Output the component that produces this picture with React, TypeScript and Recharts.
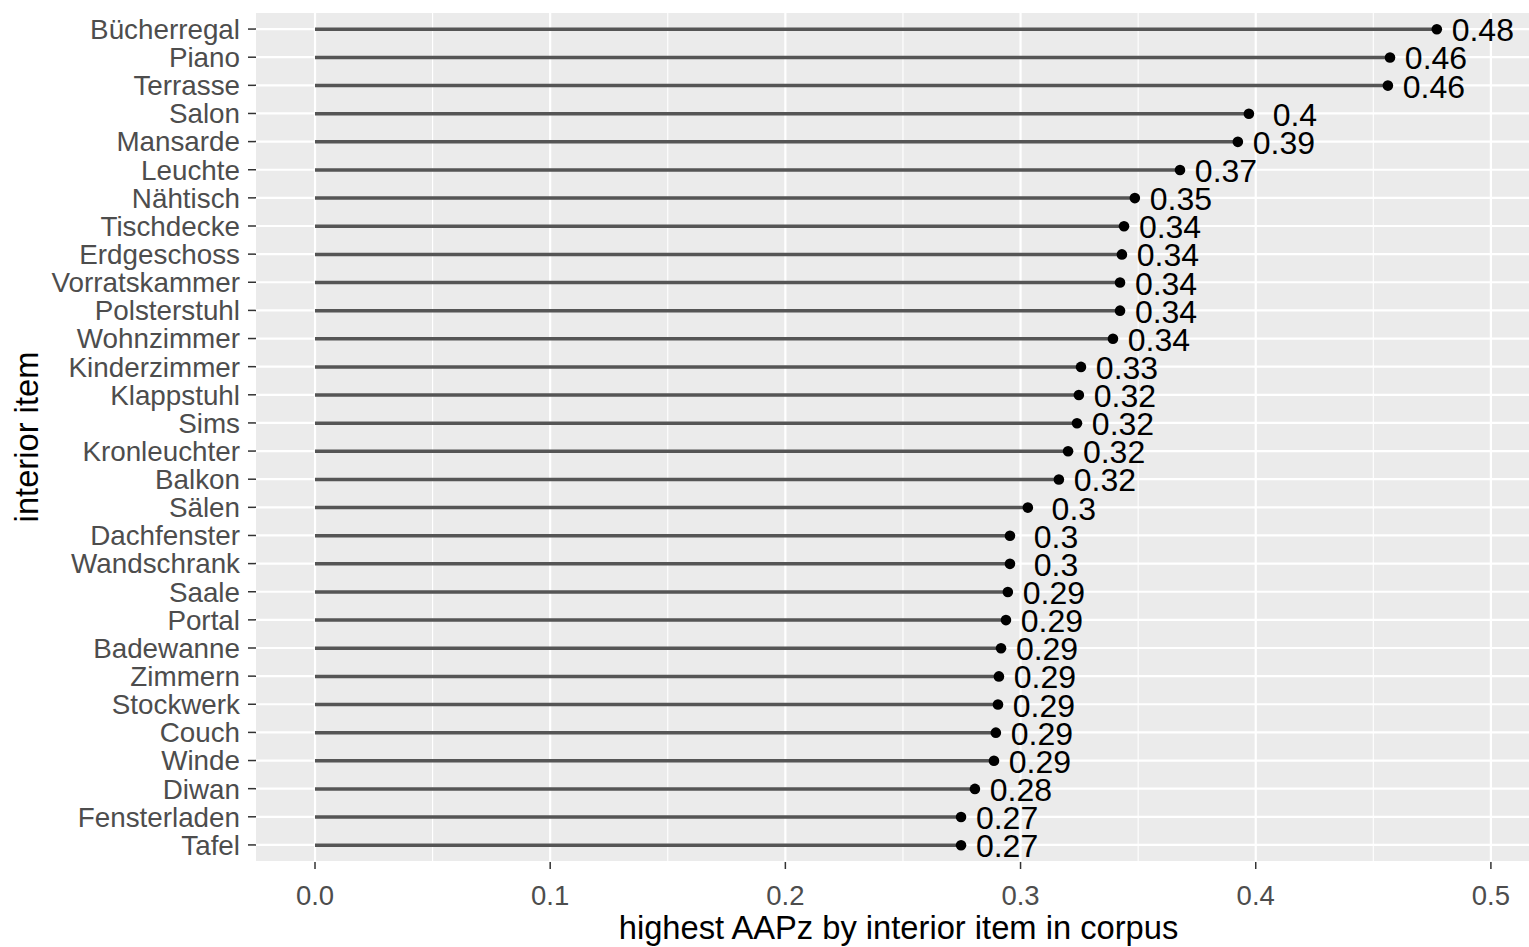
import { BarChart, Bar, XAxis, YAxis, CartesianGrid, Label } from "recharts";

// interior items, top to bottom
const items = [
  "Bücherregal", "Piano", "Terrasse", "Salon", "Mansarde", "Leuchte", "Nähtisch",
  "Tischdecke", "Erdgeschoss", "Vorratskammer", "Polsterstuhl", "Wohnzimmer",
  "Kinderzimmer", "Klappstuhl", "Sims", "Kronleuchter", "Balkon", "Sälen",
  "Dachfenster", "Wandschrank", "Saale", "Portal", "Badewanne", "Zimmern",
  "Stockwerk", "Couch", "Winde", "Diwan", "Fensterladen", "Tafel",
];

// highest AAPz per item
const aapz = [
  0.477, 0.4571, 0.4562, 0.3971, 0.3924, 0.3678, 0.3486,
  0.344, 0.3431, 0.3423, 0.3423, 0.3393,
  0.3257, 0.3248, 0.324, 0.3202, 0.3163, 0.3031,
  0.2955, 0.2955, 0.2946, 0.2938, 0.2917, 0.2908,
  0.2904, 0.2895, 0.2887, 0.2806, 0.2747, 0.2747,
];

const xTicks = [0, 0.1, 0.2, 0.3, 0.4, 0.5];
const xMinor = [0.05, 0.15, 0.25, 0.35, 0.45];

const data = items.map((item, i) => ({ item, value: aapz[i] }));

const FONT = "'Liberation Sans', Arial, sans-serif";

const fmtLabel = (v: number) => String(Number(v.toFixed(2)));

const Lollipop = (props: any) => {
  const { x, y, width, height, value } = props;
  const cy = y + height / 2;
  const end = x + width;
  return (
    <g>
      <line x1={x} y1={cy} x2={end} y2={cy} stroke="#555555" strokeWidth={3.5} />
      <circle cx={end} cy={cy} r={5.3} fill="#000" />
      <text
        x={end + 46}
        y={cy + 1}
        textAnchor="middle"
        dominantBaseline="central"
        fontSize={32}
        fontFamily={FONT}
        fill="#000"
      >
        {fmtLabel(value)}
      </text>
    </g>
  );
};

const XTitle = ({ viewBox }: any) => (
  <text
    x={viewBox.x + viewBox.width / 2 + 6}
    y={viewBox.y + 77}
    textAnchor="middle"
    fontSize={32.7}
    fontFamily={FONT}
    fill="#000"
  >
    highest AAPz by interior item in corpus
  </text>
);

const YTitle = ({ viewBox }: any) => {
  const cx = 38;
  const cy = viewBox.y + viewBox.height / 2;
  return (
    <text
      x={cx}
      y={cy}
      transform={`rotate(-90, ${cx}, ${cy})`}
      textAnchor="middle"
      fontSize={32.7}
      fontFamily={FONT}
      fill="#000"
    >
      interior item
    </text>
  );
};

export default function App() {
  return (
    <div style={{ position: "absolute", left: 0, top: 0, background: "#fff" }}>
      <BarChart
        width={1529}
        height={947}
        data={data}
        layout="vertical"
        margin={{ top: 12, right: 0, bottom: 0, left: 0 }}
      >
        <CartesianGrid fill="#EBEBEB" stroke="#fff" strokeWidth={1.1} horizontal={false} verticalValues={xMinor} />
        <CartesianGrid stroke="#fff" strokeWidth={2.2} verticalValues={xTicks} />
        <XAxis
          type="number"
          domain={[-0.02509, 0.5162]}
          allowDataOverflow
          ticks={xTicks}
          tickFormatter={(v: number) => v.toFixed(1)}
          height={85}
          axisLine={false}
          tickLine={{ stroke: "#333", strokeWidth: 1.5 }}
          tickSize={7}
          tickMargin={16}
          tick={{ fontSize: 27.5, fill: "#4D4D4D", fontFamily: FONT }}
        >
          <Label content={XTitle} />
        </XAxis>
        <YAxis
          type="category"
          dataKey="item"
          width={256}
          interval={0}
          padding={{ top: 3, bottom: 3 }}
          axisLine={false}
          tickLine={{ stroke: "#333", strokeWidth: 1.5 }}
          tickSize={8}
          tickMargin={8}
          tick={{ fontSize: 27.8, fill: "#4D4D4D", fontFamily: FONT }}
        >
          <Label content={YTitle} />
        </YAxis>
        <Bar dataKey="value" shape={Lollipop} isAnimationActive={false} />
      </BarChart>
    </div>
  );
}
